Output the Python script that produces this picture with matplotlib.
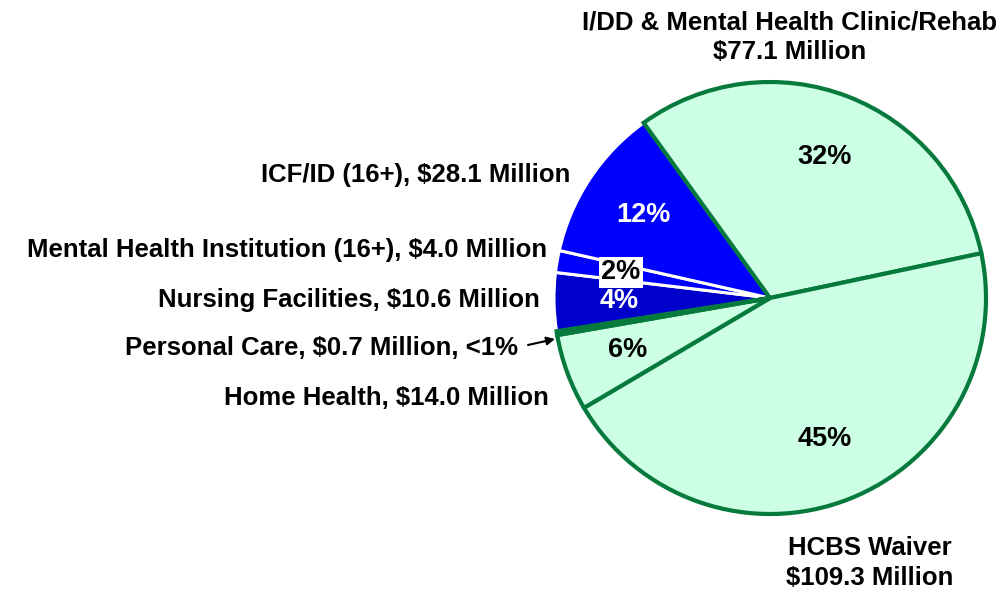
import matplotlib
matplotlib.use('Agg')
import matplotlib.pyplot as plt

# data (millions), clockwise from top
categories = ['I/DD & Mental Health Clinic/Rehab', 'HCBS Waiver', 'Home Health',
              'Personal Care', 'Nursing Facilities', 'Mental Health Institution (16+)',
              'ICF/ID (16+)']
values = [77.1, 109.3, 14.0, 0.7, 10.6, 4.0, 28.1]

mint = '#CCFFE3'
green = '#067A3C'
blue = '#0000FF'
dblue = '#0000CC'
face_colors = [mint, mint, mint, green, dblue, blue, blue]
edge_colors = [green, green, green, green, 'white', 'white', 'white']

plt.rcParams['font.family'] = ['Liberation Sans', 'DejaVu Sans']
plt.rcParams['font.weight'] = 'bold'

fig = plt.figure(figsize = (10.08, 5.91), dpi = 100)
ax = fig.add_axes([0, 0, 1, 1])

cx, cy, R = 770, 293, 216

def pct_fmt(p):
    return '' if p < 1 else '%d%%' % round(p)

wedges, texts, autotexts = ax.pie(values, colors = face_colors, startangle = 125.8,
                                  counterclock = False, center = (cx, cy), radius = R,
                                  autopct = pct_fmt, pctdistance = 0.7,
                                  frame = True,
                                  textprops = dict(fontsize = 19.5, fontweight = 'bold'))
ax.set_xlim(0, 1008)
ax.set_ylim(0, 591)
ax.set_aspect('equal')
ax.axis('off')

for w, ec in zip(wedges, edge_colors):
    w.set_edgecolor(ec)
    if ec == 'white':
        w.set_linewidth(2.2)
        w.set_zorder(1)
    else:
        w.set_linewidth(3)
        w.set_zorder(2)

pct_colors = ['black', 'black', 'black', 'black', 'white', 'black', 'white']
for t, c in zip(autotexts, pct_colors):
    t.set_color(c)
    t.set_zorder(5)
autotexts[5].set_bbox(dict(facecolor = 'white', edgecolor = 'none', pad = 1.5))

fs = 18.5
def lab(x, y, s, ha = 'right'):
    ax.text(x, 591 - y, s, ha = ha, va = 'center', fontsize = fs, fontweight = 'bold',
            linespacing = 1.3)

lab(790, 37, '%s\n$%.1f Million' % (categories[0], values[0]), ha = 'center')
lab(870, 563, '%s\n$%.1f Million' % (categories[1], values[1]), ha = 'center')
lab(570, 175, '%s, $%.1f Million' % (categories[6], values[6]))
lab(547, 250, '%s, $%.1f Million' % (categories[5], values[5]))
lab(540, 300, '%s, $%.1f Million' % (categories[4], values[4]))
lab(518, 348, '%s, $%.1f Million, <1%%' % (categories[3], values[3]))
lab(549, 398, '%s, $%.1f Million' % (categories[2], values[2]))

ax.annotate('', xy = (555, 591 - 339), xytext = (528, 591 - 345),
            arrowprops = dict(arrowstyle = '-|>', color = 'black', lw = 1.5,
                              mutation_scale = 12, shrinkA = 0, shrinkB = 0))

fig.savefig('out.png', dpi = 100)
